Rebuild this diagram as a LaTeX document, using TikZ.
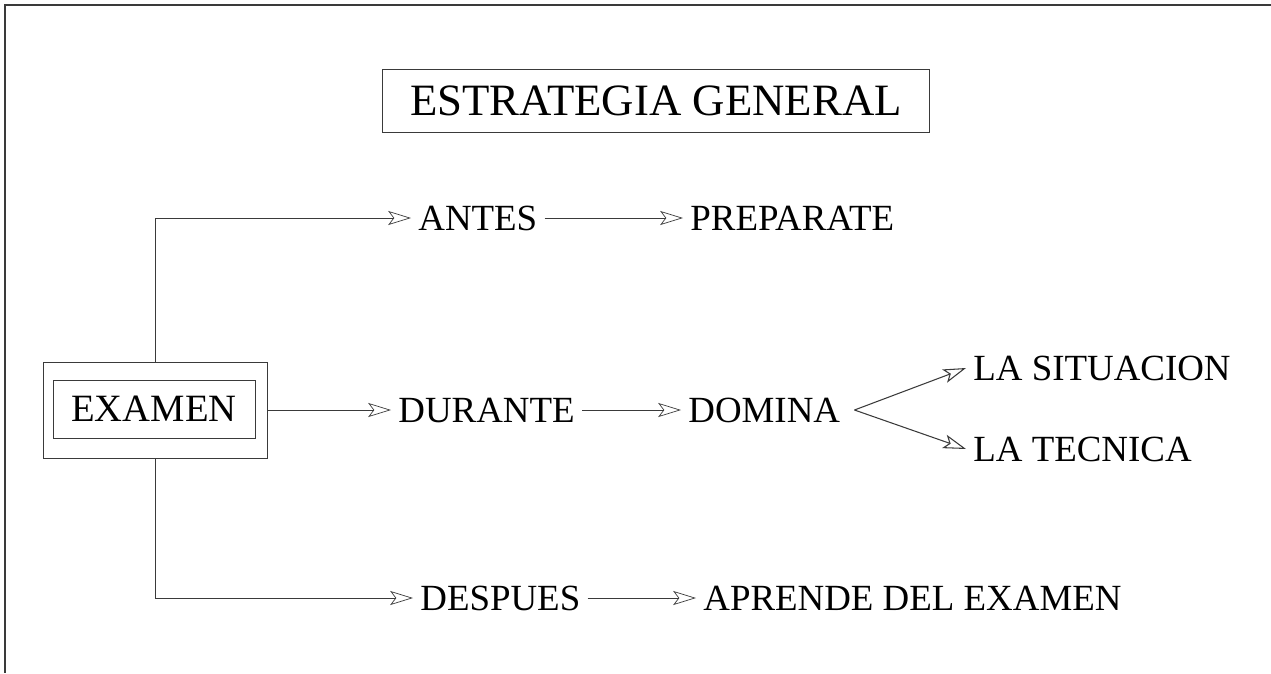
\documentclass[tikz,border=0pt]{standalone}
\usepackage{fontspec}
\setmainfont{Liberation Serif}
\usetikzlibrary{arrows.meta}
\definecolor{scanink}{HTML}{3A3A3A}

\begin{document}
\begin{tikzpicture}[x=0.02cm,y=-0.02cm,
    >={Stealth[open,length=13pt,width=8pt,inset=3pt]},
    every node/.style={font=\fontsize{21}{25}\selectfont,inner sep=4pt},
    lbl/.style={anchor=west},
    link/.style={->,scanink,thin}]
  \useasboundingbox (0,0) rectangle (1271,673);
  % page frame
  \draw[scanink,thick] (1271,5) -- (5,5) -- (5,673);

  \node[draw=scanink,thin,minimum width=10.94cm,minimum height=1.26cm,
    font=\fontsize{25.5}{30}\selectfont] (estrategia) at (656,101) {ESTRATEGIA GENERAL};

  \node[draw=scanink,thin,minimum width=4.04cm,minimum height=1.16cm,
    font=\fontsize{22}{26}\selectfont] (examen) at (154,409) {EXAMEN};
  \node[draw=scanink,thin,minimum width=4.48cm,minimum height=1.92cm] (examenbox) at (155,410) {};

  \node[lbl] (antes) at (411,218) {ANTES};
  \node[lbl] (preparate) at (683,218) {PREPARATE};
  \node[lbl] (durante) at (391,410) {DURANTE};
  \node[lbl] (domina) at (681,410) {DOMINA};
  \node[lbl] (situacion) at (966,368) {LA SITUACION};
  \node[lbl] (tecnica) at (966,449) {LA TECNICA};
  \node[lbl] (despues) at (413,598) {DESPUES};
  \node[lbl] (aprende) at (696,598) {APRENDE DEL EXAMEN};

  \draw[link] (examenbox.north) |- (antes.west);
  \draw[link] (antes) -- (preparate);
  \draw[link] (examenbox) -- (durante);
  \draw[link] (durante) -- (domina);
  \draw[link,semithick] ([xshift=4pt]domina.east) -- (situacion.west);
  \draw[link,semithick] ([xshift=4pt]domina.east) -- (tecnica.west);
  \draw[link] (examenbox.south) |- (despues.west);
  \draw[link] (despues) -- (aprende);
\end{tikzpicture}
\end{document}
